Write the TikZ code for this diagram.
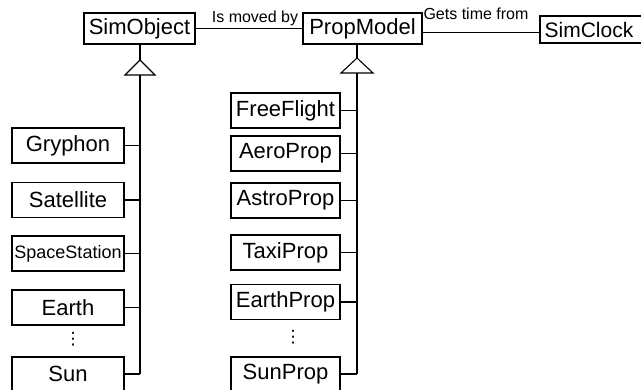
\documentclass[tikz,border=0pt]{standalone}
\usepackage{fontspec}
\setmainfont{Liberation Sans}
\newfontfamily\dejavu{DejaVu Sans}
\tikzset{
  cls/.style={draw, line width=1.2pt, inner sep=0pt, font=\fontsize{22}{24}\selectfont},
  lbox/.style={cls, minimum width=112pt, minimum height=35pt},
  rbox/.style={cls, minimum width=109pt, minimum height=35pt},
  conn/.style={line width=1.1pt},
  lbl/.style={font=\fontsize{16}{18}\selectfont, inner sep=0pt, anchor=base},
  dotnode/.style={font=\dejavu\fontsize{17}{20}\selectfont, inner sep=0pt}
}
\begin{document}
\begin{tikzpicture}[x=1pt, y=-1pt]
\useasboundingbox (0,0) rectangle (641,389);
% top classes
\node[cls, minimum width=111pt, minimum height=31pt] (simobj) at (139.5,28.5) {SimObject};
\node[cls, minimum width=119pt, minimum height=31pt] (prop) at (362.5,28.5) {PropModel};
\node[cls, minimum width=104pt, minimum height=27pt, font=\fontsize{21}{24}\selectfont] (clock) at (592,29.5) {\hspace*{-6pt}SimClock};
% associations
\draw[conn] (simobj.east) -- (prop.west);
\node[lbl] (lbl1) at (255,22) {Is moved by};
\draw[conn] ([yshift=-4pt]prop.east) -- ([yshift=-4pt]prop.east -| clock.west);
\node[lbl] (lbl2) at (476,19) {Gets time from};
% triangles
\coordinate (t1) at (140,60);
\coordinate (b1) at (140,75);
\coordinate (t2) at (357,58);
\coordinate (b2) at (357,73);
\draw[conn] (simobj.south -| t1) -- (t1);
\draw[conn] (t1) -- ++(-15,15) -- ++(30,0) -- cycle;
\draw[conn] (prop.south -| t2) -- (t2);
\draw[conn] (t2) -- ++(-16,15) -- ++(32,0) -- cycle;
% left subclasses
\node[lbox] (gry) at (68,145.5) {Gryphon};
\node[lbox] (sat) at (68,200) {Satellite};
\node[lbox, font=\fontsize{18}{20}\selectfont] (sps) at (68,253.5) {SpaceStation};
\node[lbox] (earth) at (68,307.5) {Earth};
\node[dotnode] (ldots) at (73,339) {⋮};
\node[lbox, minimum height=42pt, text depth=-2pt] (sun) at (68,378) {};
\node[font=\fontsize{22}{24}\selectfont] (suntxt) at (68,374) {Sun};
\draw[conn] (b1) -- (b1 |- suntxt.east);
\foreach \n in {gry,sat,sps,earth,suntxt}
  \draw[conn] (\n.east -| sun.east) -- (\n.east -| b1);
% right subclasses
\node[rbox] (ff) at (285.5,110.5) {FreeFlight};
\node[rbox] (aero) at (285.5,153.5) {AeroProp};
\node[rbox] (astro) at (285.5,200.5) {AstroProp};
\node[rbox] (taxi) at (285.5,252.5) {TaxiProp};
\node[rbox] (eprop) at (285.5,302) {EarthProp};
\node[dotnode] (rdots) at (293,337) {⋮};
\node[rbox, minimum height=42pt] (sunp) at (285.5,378) {};
\node[font=\fontsize{22}{24}\selectfont] (sunptxt) at (285.5,374) {SunProp};
\draw[conn] (b2) -- (b2 |- sunptxt.east);
\foreach \n in {ff,aero,astro,taxi,eprop,sunptxt}
  \draw[conn] (\n.east -| sunp.east) -- (\n.east -| b2);
\end{tikzpicture}
\end{document}
